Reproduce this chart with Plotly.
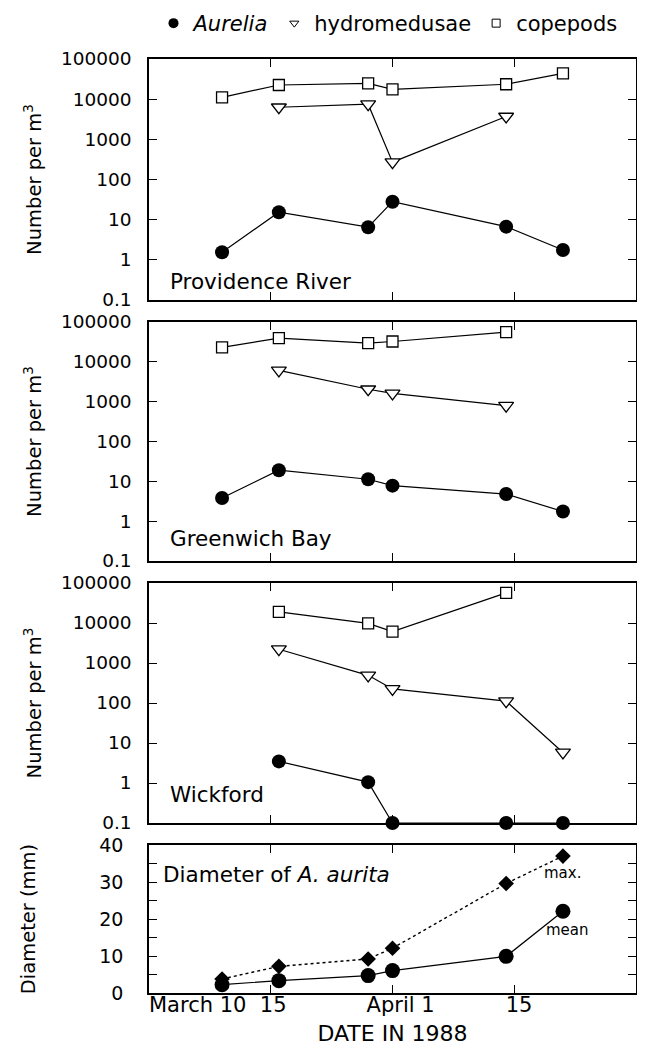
import plotly.graph_objects as go

# ---- data (x = day of year 1988) ----
sample_day = [69, 76, 87, 90, 104, 111]

prov_aurelia = [1.55, 15.3, 6.5, 28, 6.7, 1.76]
prov_hydro = [None, 6300, 7500, 270, 3700, None]
prov_cope = [11100, 22500, 24800, 17600, 23500, 44000]

green_aurelia = [3.8, 19, 11.3, 7.8, 4.8, 1.75]
green_hydro = [None, 6080, 2050, 1610, 794, None]
green_cope = [23000, 39400, 29600, 32400, 55500, None]

wick_aurelia = [None, 3.47, 1.05, 0.1, 0.1, 0.1]
wick_hydro = [None, 2210, 492, 225, 111, 5.8]
wick_cope = [None, 19000, 9770, 6080, 56500, None]

diam_max = [3.8, 7.2, 9.2, 12.1, 29.6, 37.0]
diam_mean = [2.25, 3.34, 4.7, 6.05, 9.9, 22.1]

log_tickvals = [0.1, 1, 10, 100, 1000, 10000, 100000]
log_ticktext = ["0.1", "1", "10", "100", "1000", "10000", "100000"]
date_tickvals = [75, 90, 105]
date_labelvals = [66, 75.3, 91, 105.6]
date_labeltext = ["March 10", "15", "April 1", "15"]
panel_names = ["Providence River", "Greenwich Bay", "Wickford"]

FONT = "DejaVu Sans"
BLACK = "black"

fig = go.Figure()

def add_panel(i, aur, hyd, cop):
    xa = "x" if i == 1 else f"x{i}"
    ya = "y" if i == 1 else f"y{i}"
    fig.add_trace(go.Scatter(x=sample_day, y=cop, xaxis=xa, yaxis=ya, mode="lines+markers",
                             line=dict(color=BLACK, width=1.2),
                             marker=dict(symbol="square", size=11, color="white",
                                         line=dict(color=BLACK, width=1.3)),
                             showlegend=False, cliponaxis=False))
    fig.add_trace(go.Scatter(x=sample_day, y=hyd, xaxis=xa, yaxis=ya, mode="lines+markers",
                             line=dict(color=BLACK, width=1.2),
                             marker=dict(symbol="triangle-down", size=13, color="white",
                                         line=dict(color=BLACK, width=1.3)),
                             showlegend=False, cliponaxis=False))
    fig.add_trace(go.Scatter(x=sample_day, y=aur, xaxis=xa, yaxis=ya, mode="lines+markers",
                             line=dict(color=BLACK, width=1.2),
                             marker=dict(symbol="circle", size=14, color=BLACK),
                             showlegend=False, cliponaxis=False))

add_panel(1, prov_aurelia, prov_hydro, prov_cope)
add_panel(2, green_aurelia, green_hydro, green_cope)
add_panel(3, wick_aurelia, wick_hydro, wick_cope)

# diameter panel
fig.add_trace(go.Scatter(x=sample_day, y=diam_max, xaxis="x4", yaxis="y4", mode="lines+markers",
                         line=dict(color=BLACK, width=1.4, dash="dot"),
                         marker=dict(symbol="diamond", size=12, color=BLACK),
                         showlegend=False, cliponaxis=False))
fig.add_trace(go.Scatter(x=sample_day, y=diam_mean, xaxis="x4", yaxis="y4", mode="lines+markers",
                         line=dict(color=BLACK, width=1.2),
                         marker=dict(symbol="circle", size=15, color=BLACK),
                         showlegend=False, cliponaxis=False))

# legend-only entries
fig.add_trace(go.Scatter(x=[None], y=[None], mode="markers", name="<i>Aurelia</i>",
                         marker=dict(symbol="circle", size=10, color=BLACK)))
fig.add_trace(go.Scatter(x=[None], y=[None], mode="markers", name="hydromedusae",
                         marker=dict(symbol="triangle-down", size=8, color="white",
                                     line=dict(color=BLACK, width=1))))
fig.add_trace(go.Scatter(x=[None], y=[None], mode="markers", name="copepods",
                         marker=dict(symbol="square", size=8, color="white",
                                     line=dict(color=BLACK, width=1))))

# geometry: page pixels (page body has an 8px margin)
OFF = 8
PAGE_W, PAGE_H = 645, 1054
W, H = PAGE_W - OFF, PAGE_H - 2 * OFF
plot_left, plot_right, plot_top, plot_bottom = 149, 636, 59, 993
ml = plot_left - OFF
mr = W - (plot_right - OFF)
mt = plot_top - OFF
mb = H - (plot_bottom - OFF)
ph = plot_bottom - plot_top
pw = plot_right - plot_left

def dom(top_px, bot_px):
    return [(plot_bottom - bot_px) / ph, (plot_bottom - top_px) / ph]

panels_px = [(59, 300), (322, 561), (583, 823), (845, 993)]
XR = [60, 120]

axis_common = dict(showline=True, linecolor=BLACK, linewidth=1.5, mirror="ticks",
                   ticks="inside", tickcolor=BLACK, ticklen=8, tickwidth=1.2,
                   showgrid=False, zeroline=False)

layout = dict(
    width=W, height=H,
    margin=dict(l=ml, r=mr, t=mt, b=mb, autoexpand=False),
    paper_bgcolor="white", plot_bgcolor="white",
    font=dict(family=FONT, size=19, color=BLACK),
    legend=dict(orientation="h", x=(388 - plot_left) / pw, xanchor="center",
                y=(plot_bottom - 3) / ph, yanchor="top", font=dict(size=21),
                itemwidth=30),
)

for i, (t, b) in enumerate(panels_px, start=1):
    xk = "xaxis" if i == 1 else f"xaxis{i}"
    yk = "yaxis" if i == 1 else f"yaxis{i}"
    ya = "y" if i == 1 else f"y{i}"
    xa = "x" if i == 1 else f"x{i}"
    if i < 4:
        layout[xk] = dict(axis_common, range=XR, anchor=ya, domain=[0, 1],
                          tickmode="array", tickvals=date_tickvals, showticklabels=False)
        layout[yk] = dict(axis_common, type="log", range=[-1, 5], anchor=xa, domain=dom(t, b),
                          tickmode="array", tickvals=log_tickvals, ticktext=log_ticktext,
                          tickfont=dict(size=18.5), ticklabelstandoff=12,
                          title=dict(text="Number per m<sup>3</sup>", font=dict(size=19.5),
                                     standoff=14))
    else:
        layout[xk] = dict(axis_common, range=XR, anchor=ya, domain=[0, 1],
                          tickmode="array", tickvals=date_labelvals, ticktext=date_labeltext,
                          ticks="", tickfont=dict(size=21), ticklabelstandoff=-8,
                          minor=dict(tickmode="array", tickvals=date_tickvals, ticks="inside",
                                     ticklen=8, tickwidth=1.2, tickcolor=BLACK),
                          title=dict(text="DATE IN 1988", font=dict(size=22), standoff=18))
        layout[yk] = dict(axis_common, range=[0, 40], anchor=xa, domain=dom(t, b),
                          tickmode="linear", tick0=0, dtick=10, ticklabelstandoff=20,
                          tickfont=dict(size=19),
                          minor=dict(dtick=5, ticks="inside", ticklen=8, tickwidth=1.2,
                                     tickcolor=BLACK),
                          title=dict(text="Diameter (mm)", font=dict(size=19.5), standoff=58))

fig.update_layout(**layout)

label_y = [0.075, 0.095, 0.12]
for i, (name, yy) in enumerate(zip(panel_names, label_y), start=1):
    yd = "y domain" if i == 1 else f"y{i} domain"
    xd = "x domain" if i == 1 else f"x{i} domain"
    fig.add_annotation(text=name, xref=xd, yref=yd, x=(168 - plot_left) / pw, y=yy,
                       xanchor="left", yanchor="middle", showarrow=False,
                       font=dict(size=21.5))

fig.add_annotation(text="Diameter of <i>A. aurita</i>", xref="x4 domain", yref="y4 domain",
                   x=(161 - plot_left) / pw, y=0.80, xanchor="left", yanchor="middle",
                   showarrow=False, font=dict(size=21.5))
fig.add_annotation(text="max.", xref="x4", yref="y4", x=111, y=32.4, showarrow=False,
                   xanchor="center", yanchor="middle", font=dict(size=15))
fig.add_annotation(text="mean", xref="x4", yref="y4", x=111.5, y=17, showarrow=False,
                   xanchor="center", yanchor="middle", font=dict(size=15))

fig.write_html("out.html")
